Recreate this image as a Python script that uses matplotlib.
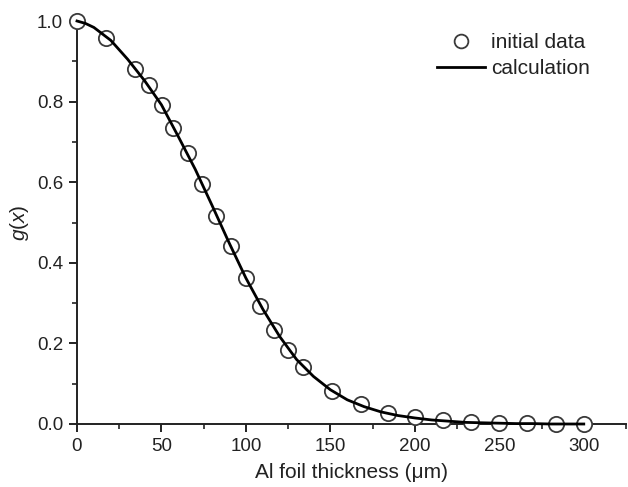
import numpy as np
import matplotlib.pyplot as plt

plt.rcParams['font.family'] = ['Liberation Sans', 'DejaVu Sans']
plt.rcParams['mathtext.fontset'] = 'custom'
plt.rcParams['mathtext.it'] = 'Liberation Sans:italic'
plt.rcParams['mathtext.rm'] = 'Liberation Sans'

# initial data
x_data = [0, 17, 34.5, 42.5, 50.5, 57, 65.5, 74, 82.5, 91, 100, 108.5, 116.5,
          125, 134, 151, 168, 184, 200, 216.5, 233, 250, 266.5, 283.5, 300]
g_data = [1.0, 0.957, 0.882, 0.841, 0.792, 0.735, 0.673, 0.596, 0.517, 0.442,
          0.362, 0.294, 0.234, 0.184, 0.142, 0.083, 0.049, 0.028, 0.017, 0.010,
          0.005, 0.003, 0.002, 0.001, 0.0]

# calculated curve
x_calc = [0, 5, 10, 20, 30, 40, 50, 60, 70, 80, 90, 100, 110, 120, 130, 140, 150,
          160, 170, 180, 190, 200, 210, 220, 230, 240, 250, 260, 270, 280, 290, 300]
g_calc = [1.0, 0.994, 0.984, 0.952, 0.905, 0.852, 0.792, 0.713, 0.632, 0.542, 0.450,
          0.362, 0.285, 0.217, 0.160, 0.118, 0.085, 0.060, 0.043, 0.030, 0.021,
          0.015, 0.010, 0.007, 0.004, 0.003, 0.002, 0.001, 0.001, 0.0, 0.0, 0.0]

dark = '#222222'

fig = plt.figure(figsize=(6.28, 4.87), dpi=100)
ax = fig.add_axes([77 / 628, 1 - 424 / 487, (626 - 77) / 628, (424 - 21) / 487])

ax.plot(x_data, g_data, 'o', ms=11, mfc='white', mec='#3a3a3a', mew=1.3,
        clip_on=False, zorder=3, label='initial data')
ax.plot(x_calc, g_calc, '-', color='black', lw=2.0, clip_on=False, zorder=4,
        label='calculation')

ax.set_xlim(0, 324)
ax.set_ylim(0, 1.0)
ax.set_xticks([0, 50, 100, 150, 200, 250, 300])
ax.set_xticks([25, 75, 125, 175, 225, 275, 325], minor=True)
ax.set_yticks([0.0, 0.2, 0.4, 0.6, 0.8, 1.0])
ax.set_yticks([0.1, 0.3, 0.5, 0.7, 0.9], minor=True)
ax.set_yticklabels(['0.0', '0.2', '0.4', '0.6', '0.8', '1.0'])

for s in ['top', 'right']:
    ax.spines[s].set_visible(False)
for s in ['left', 'bottom']:
    ax.spines[s].set_color(dark)
    ax.spines[s].set_linewidth(1.4)
    ax.spines[s].set_zorder(2)

ax.tick_params(which='major', direction='out', length=6, width=1.4,
               color=dark, labelsize=13.5, labelcolor=dark, pad=4)
ax.tick_params(which='minor', direction='out', length=3.5, width=1.2, color=dark)

ax.set_xlabel('Al foil thickness (\u03bcm)', fontsize=15, color=dark, labelpad=6)
ax.set_ylabel(r'$g$($x$)', fontsize=15, color=dark, labelpad=4)

ax.legend(loc='upper left', bbox_to_anchor=(437 / 628, 1 - 33 / 487),
          bbox_transform=fig.transFigure, frameon=False, fontsize=15,
          borderpad=0, borderaxespad=0, handlelength=2.3, handletextpad=0.3,
          labelspacing=0.35, markerscale=0.9)
for t in ax.get_legend().get_texts():
    t.set_color(dark)

fig.savefig('out.png', dpi=100)
